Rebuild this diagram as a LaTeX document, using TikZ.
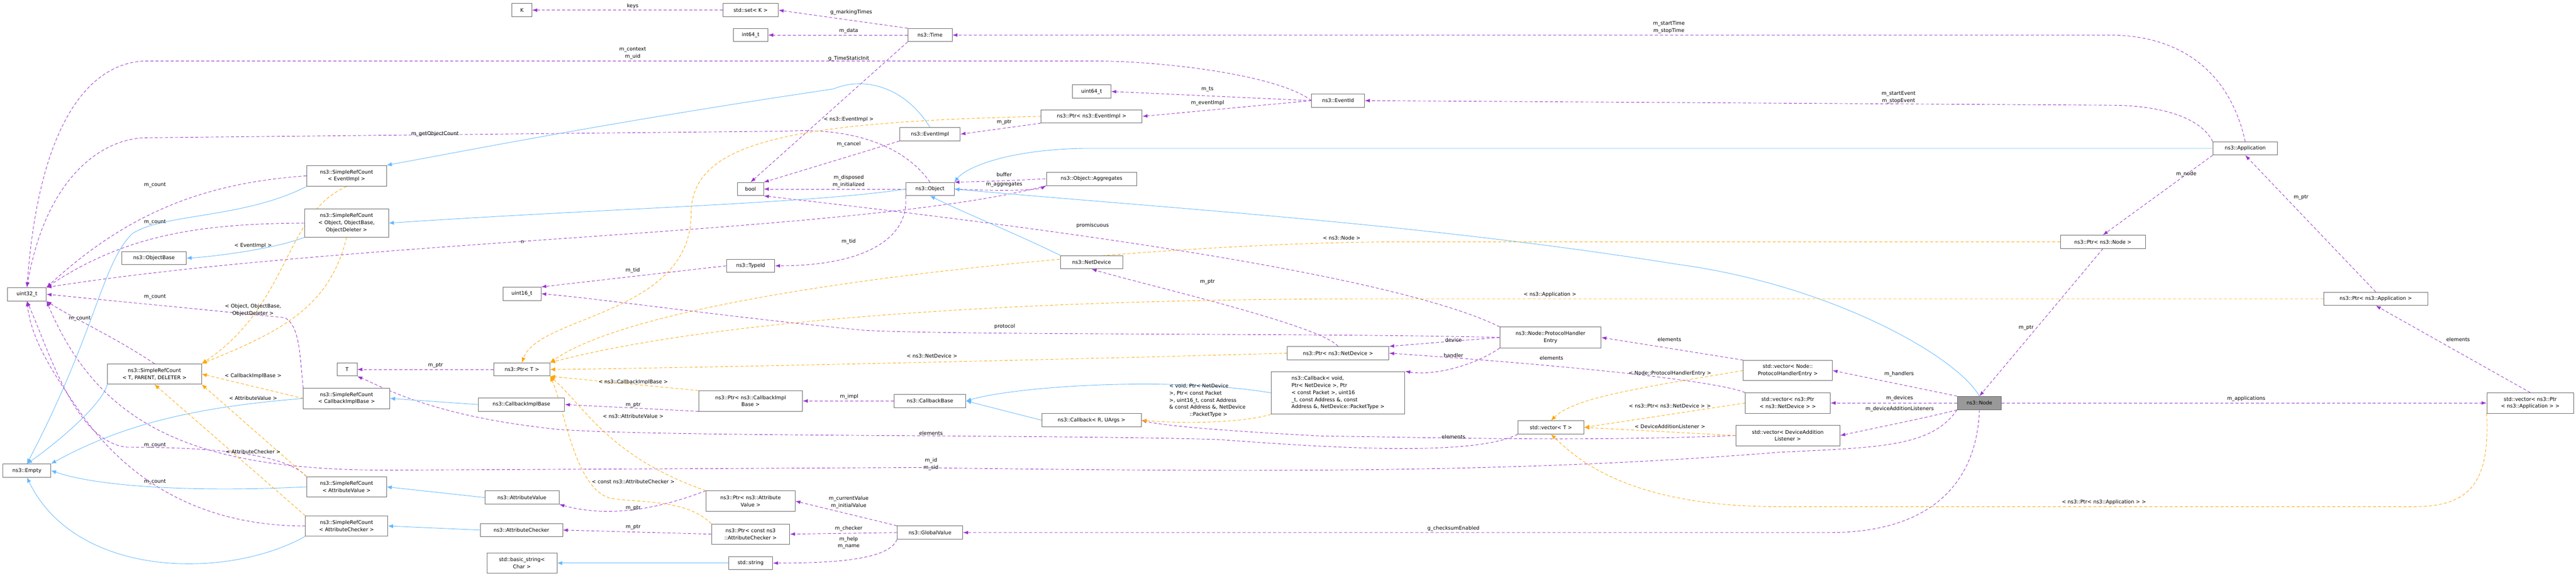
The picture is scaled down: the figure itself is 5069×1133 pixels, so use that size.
\documentclass[tikz,border=0pt]{standalone}
\usepackage{fontspec}
\setmainfont{DejaVu Sans}
\usetikzlibrary{arrows.meta}
\definecolor{purp}{HTML}{9A32CD}
\definecolor{blu}{HTML}{63B8FF}
\definecolor{orng}{HTML}{FFA500}
\pgfdeclarelayer{bg}
\pgfsetlayers{bg,main}
\begin{document}
\begin{tikzpicture}[x=1pt,y=-1pt,
 box/.style={draw=black!60, line width=0.9pt, fill=white, font=\fontsize{10}{14}\selectfont, align=center, inner sep=2pt, minimum height=26pt},
 lbl/.style={font=\fontsize{10}{14}\selectfont, align=center, inner sep=0.5pt},
 use/.style={draw=purp, dashed, dash pattern=on 6pt off 4pt, line width=0.9pt, -{Latex[length=10pt,width=7pt]}},
 inh/.style={draw=blu, line width=0.9pt, -{Latex[length=10pt,width=8pt]}},
 tmpl/.style={draw=orng, dashed, dash pattern=on 6pt off 4pt, line width=0.9pt, -{Latex[length=10pt,width=8pt]}}]
\useasboundingbox (0,0) rectangle (5069,1133);
% nodes
\node[box,minimum width=39pt] (K) at (1027,20) {K};
\node[box,minimum width=109pt] (setK) at (1477,20) {std::set< K >};
\node[box,minimum width=68pt] (int64) at (1477,69) {int64\_t};
\node[box,minimum width=87pt] (time) at (1830,69) {ns3::Time};
\node[box,minimum width=76pt] (uint64) at (2148,180) {uint64\_t};
\node[box,minimum width=199pt] (ptrEI) at (2148,229) {ns3::Ptr< ns3::EventImpl >};
\node[box,minimum width=104pt] (eventid) at (2633,198) {ns3::EventId};
\node[box,minimum width=119pt] (eventimpl) at (1830,264) {ns3::EventImpl};
\node[box,minimum width=127pt] (app) at (4418,292) {ns3::Application};
\node[box,minimum width=51pt] (bool) at (1477,372) {bool};
\node[box,minimum width=95pt] (object) at (1830,372) {ns3::Object};
\node[box,minimum width=178pt] (aggr) at (2148,352) {ns3::Object::Aggregates};
\node[box,minimum width=157pt,minimum height=41pt] (srcEI) at (682,346) {ns3::SimpleRefCount\\< EventImpl >};
\node[box,minimum width=165pt,minimum height=55pt] (srcO) at (682,439) {ns3::SimpleRefCount\\< Object, ObjectBase,\\ ObjectDeleter >};
\node[box,minimum width=127pt] (objbase) at (303,508) {ns3::ObjectBase};
\node[box,minimum width=167pt] (ptrNode) at (4138,476) {ns3::Ptr< ns3::Node >};
\node[box,minimum width=95pt] (typeid) at (1477,523) {ns3::TypeId};
\node[box,minimum width=122pt] (netdev) at (2148,516) {ns3::NetDevice};
\node[box,minimum width=76pt] (uint32) at (53,579) {uint32\_t};
\node[box,minimum width=75pt] (uint16) at (1027,578) {uint16\_t};
\node[box,minimum width=205pt] (ptrApp) at (4675,588) {ns3::Ptr< ns3::Application >};
\node[box,minimum width=199pt,minimum height=41pt] (phe) at (3051,664) {ns3::Node::ProtocolHandler\\Entry};
\node[box,minimum width=200pt] (ptrND) at (2633,695) {ns3::Ptr< ns3::NetDevice >};
\node[box,minimum width=185pt,minimum height=40pt] (srcT) at (304,736) {ns3::SimpleRefCount\\< T, PARENT, DELETER >};
\node[box,minimum width=39pt] (T) at (683,727) {T};
\node[box,minimum width=110pt] (ptrT) at (1027,727) {ns3::Ptr< T >};
\node[box,minimum width=175pt,minimum height=40pt] (vecPHE) at (3518,729) {std::vector< Node::\\ProtocolHandlerEntry >};
\node[box,minimum width=263pt,minimum height=84pt,align=left] (cbvoid) at (2633,773) {ns3::Callback< void,\\ Ptr< NetDevice >, Ptr\\< const Packet >, uint16\\\_t, const Address \&, const\\ Address \&, NetDevice::PacketType >};
\node[box,minimum width=170pt,minimum height=40pt] (srcCIB) at (682,784) {ns3::SimpleRefCount\\< CallbackImplBase >};
\node[box,minimum width=204pt,minimum height=40pt] (ptrCIB) at (1477,789) {ns3::Ptr< ns3::CallbackImpl\\Base >};
\node[box,minimum width=141pt] (cbbase) at (1830,789) {ns3::CallbackBase};
\node[box,minimum width=87pt,fill=black!40] (node) at (3895,793) {ns3::Node};
\node[box,minimum width=167pt,minimum height=40pt] (vecND) at (3518,793) {std::vector< ns3::Ptr\\< ns3::NetDevice > >};
\node[box,minimum width=171pt,minimum height=40pt] (vecApp) at (4979,793) {std::vector< ns3::Ptr\\< ns3::Application > >};
\node[box,minimum width=170pt] (cib) at (1026,796) {ns3::CallbackImplBase};
\node[box,minimum width=195pt] (cbR) at (2148,827) {ns3::Callback< R, UArgs >};
\node[box,minimum width=130pt] (vecT) at (3052,841) {std::vector< T >};
\node[box,minimum width=205pt,minimum height=40pt] (vecDAL) at (3518,857) {std::vector< DeviceAddition\\Listener >};
\node[box,minimum width=94pt] (empty) at (53,926) {ns3::Empty};
\node[box,minimum width=157pt,minimum height=40pt] (srcAV) at (682,958) {ns3::SimpleRefCount\\< AttributeValue >};
\node[box,minimum width=146pt] (av) at (1027,979) {ns3::AttributeValue};
\node[box,minimum width=175pt,minimum height=40pt] (ptrAV) at (1477,986) {ns3::Ptr< ns3::Attribute\\Value >};
\node[box,minimum width=162pt,minimum height=40pt] (srcAC) at (682,1035) {ns3::SimpleRefCount\\< AttributeChecker >};
\node[box,minimum width=162pt] (ac) at (1026,1043) {ns3::AttributeChecker};
\node[box,minimum width=154pt,minimum height=40pt] (ptrAC) at (1477,1051) {ns3::Ptr< const ns3\\::AttributeChecker >};
\node[box,minimum width=129pt] (gv) at (1830,1048) {ns3::GlobalValue};
\node[box,minimum width=138pt,minimum height=40pt] (bstr) at (1027,1108) {std::basic\_string<\\ Char >};
\node[box,minimum width=87pt] (str) at (1477,1108) {std::string};

\begin{pgfonlayer}{bg}
% ---------- purple (usage) ----------
\draw[use] (setK) -- (K);
\draw[use] (time.north west) -- (setK.east);
\draw[use] (time) -- (int64);
\draw[use] (app.north) .. controls (4390,150) and (4300,69) .. (4150,69) -- (time.east);
\draw[use] (eventid.west) .. controls (2520,150) and (2300,120) .. (2150,120) -- (290,120) .. controls (200,120) and (80,200) .. (uint32.north);
\draw[use] (eventid.west) -- (uint64.east);
\draw[use] (eventid.west) -- (ptrEI.east);
\draw[use] (ptrEI.south west) -- (eventimpl.east);
\draw[use] (eventimpl.south west) -- (bool.north east);
\draw[use] (app.north west) .. controls (4330,230) and (4250,207) .. (4150,207) -- (eventid.east);
\draw[use] (time.south west) -- (bool.north);
\draw[use] (object.north) .. controls (1790,300) and (1700,250) .. (1550,258) -- (290,271) .. controls (200,271) and (90,350) .. (uint32.north);
\draw[use] (object) -- (bool);
\draw[use] (aggr.west) .. controls (2080,350) and (2020,355) .. (object.north east);
\draw[use] (object.east) .. controls (1960,376) and (2040,375) .. (aggr.south west);
\draw[use] (aggr.south west) .. controls (1700,460) and (700,470) .. (uint32.north east);
\draw[use] (object.south west) .. controls (1790,470) and (1700,523) .. (typeid.east);
\draw[use] (typeid.west) -- (uint16.north east);
\draw[use] (phe.north west) .. controls (2700,520) and (1800,420) .. (bool.south east);
\draw[use] (phe.west) .. controls (2600,655) and (1900,660) .. (1700,650) .. controls (1400,620) and (1200,590) .. (uint16.east);
\draw[use] (phe.west) -- (ptrND.north east);
\draw[use] (phe.south west) .. controls (2900,720) and (2820,740) .. (cbvoid.north east);
\draw[use] (ptrND.north) .. controls (2600,640) and (2250,560) .. (netdev.south);
\draw[use] (vecPHE.north west) -- (phe.east);
\draw[use] (vecND.north west) .. controls (3380,750) and (3100,720) .. (ptrND.east);
\draw[use] (vecDAL.west) .. controls (3100,870) and (2800,860) .. (2600,858) .. controls (2450,850) and (2300,840) .. (cbR.east);
\draw[use] (vecT.south west) .. controls (2900,900) and (2600,880) .. (2400,865) .. controls (2100,855) and (1300,860) .. (1100,845) .. controls (850,820) and (750,760) .. (T.south east);
\draw[use] (node.north west) -- (vecPHE.east);
\draw[use] (node.west) -- (vecND.east);
\draw[use] (node.south west) .. controls (3800,820) and (3700,840) .. (vecDAL.east);
\draw[use] (node.east) -- (vecApp.west);
\draw[use] (node.south west) .. controls (3800,880) and (3700,880) .. (3500,890) .. controls (3000,930) and (2500,930) .. (1800,920) -- (800,925) .. controls (400,930) and (200,850) .. (uint32.south east);
\draw[use] (node.south) .. controls (3890,950) and (3800,1048) .. (3600,1048) -- (gv.east);
\draw[use] (ptrNode.south) -- (node.north);
\draw[use] (app.south west) -- (ptrNode.north);
\draw[use] (ptrApp.north) -- (app.south);
\draw[use] (vecApp.north) -- (ptrApp.south);
\draw[use] (gv.north west) -- (ptrAV.east);
\draw[use] (gv.west) -- (ptrAC.east);
\draw[use] (gv.south west) .. controls (1750,1100) and (1650,1108) .. (str.east);
\draw[use] (ptrAV.north west) .. controls (1300,1000) and (1200,1020) .. (av.south east);
\draw[use] (ptrAC.west) -- (ac.east);
\draw[use] (ptrCIB.south west) -- (cib.east);
\draw[use] (cbbase.west) -- (ptrCIB.east);
\draw[use] (ptrT.west) -- (T.east);
\draw[use] (srcEI.west) .. controls (400,360) and (250,420) .. (uint32.north east);
\draw[use] (srcO.west) .. controls (400,440) and (250,460) .. (uint32.north east);
\draw[use] (srcT.north) .. controls (220,660) and (150,630) .. (uint32.south east);
\draw[use] (srcCIB.north west) .. controls (590,700) and (590,640) .. (560,625) -- (uint32.east);
\draw[use] (srcAV.north west) .. controls (560,890) and (400,880) .. (250,880) .. controls (150,870) and (100,700) .. (uint32.south);
\draw[use] (srcAC.west) .. controls (400,1035) and (250,950) .. (150,800) .. controls (80,700) and (60,650) .. (uint32.south);
% ---------- blue (inheritance) ----------
\draw[inh] (eventimpl.north) .. controls (1780,170) and (1700,150) .. (1640,175) .. controls (1200,240) and (900,300) .. (srcEI.north east);
\draw[inh] (srcEI.south west) .. controls (480,430) and (320,420) .. (260,460) .. controls (200,520) and (190,650) .. (empty.north);
\draw[inh] (object.west) .. controls (1600,400) and (1200,410) .. (srcO.east);
\draw[inh] (srcO.south west) .. controls (540,490) and (420,505) .. (objbase.east);
\draw[inh] (srcT.south west) .. controls (200,800) and (100,880) .. (empty.north);
\draw[inh] (srcCIB.west) .. controls (400,800) and (250,830) .. (empty.north east);
\draw[inh] (cib.west) -- (srcCIB.east);
\draw[inh] (srcAV.west) .. controls (400,968) and (200,960) .. (empty.east);
\draw[inh] (av.west) -- (srcAV.east);
\draw[inh] (srcAC.south west) .. controls (450,1140) and (150,1140) .. (empty.south);
\draw[inh] (ac.west) -- (srcAC.east);
\draw[inh] (str.west) -- (bstr.east);
\draw[inh] (netdev.north west) .. controls (2000,460) and (1900,420) .. (object.south);
\draw[inh] (app.west) -- (2130,292) .. controls (1980,295) and (1900,330) .. (object.north east);
\draw[inh] (node.north) .. controls (3850,700) and (3600,560) .. (3300,520) .. controls (2800,440) and (2300,410) .. (object.east);
\draw[inh] (cbvoid.west) .. controls (2300,740) and (2000,760) .. (cbbase.east);
\draw[inh] (cbR.west) -- (cbbase.east);
% ---------- orange (template) ----------
\draw[tmpl] (srcEI.south) .. controls (560,420) and (570,600) .. (srcT.north east);
\draw[tmpl] (srcO.south) .. controls (650,600) and (560,650) .. (srcT.north east);
\draw[tmpl] (srcCIB.west) -- (srcT.east);
\draw[tmpl] (srcAV.north west) -- (srcT.south east);
\draw[tmpl] (srcAC.north west) -- (srcT.south);
\draw[tmpl] (ptrEI.west) .. controls (1550,240) and (1360,280) .. (1360,420) .. controls (1360,620) and (1060,620) .. (ptrT.north);
\draw[tmpl] (ptrNode.west) -- (2750,476) .. controls (2300,476) and (1300,560) .. (ptrT.north east);
\draw[tmpl] (ptrApp.west) -- (2700,588) .. controls (2000,588) and (1400,630) .. (ptrT.north east);
\draw[tmpl] (ptrND.west) .. controls (2000,710) and (1300,725) .. (ptrT.east);
\draw[tmpl] (ptrCIB.north west) -- (ptrT.south east);
\draw[tmpl] (ptrAV.north west) .. controls (1200,900) and (1150,800) .. (ptrT.south east);
\draw[tmpl] (ptrAC.north west) .. controls (1350,980) and (1250,990) .. (1200,980) .. controls (1130,960) and (1110,800) .. (ptrT.south east);
\draw[tmpl] (cbvoid.south west) .. controls (2450,830) and (2350,835) .. (cbR.east);
\draw[tmpl] (vecPHE.west) .. controls (3250,760) and (3100,780) .. (vecT.north);
\draw[tmpl] (vecND.west) -- (vecT.east);
\draw[tmpl] (vecDAL.west) -- (vecT.east);
\draw[tmpl] (vecApp.south west) .. controls (4900,950) and (4860,997) .. (4750,997) -- (3500,997) .. controls (3200,997) and (3100,900) .. (vecT.south);
\end{pgfonlayer}

% ---------- labels ----------
\node[lbl] (l1) at (1245,12) {keys};
\node[lbl] (l2) at (1675,24) {g\_markingTimes};
\node[lbl] (l3) at (1670,61) {m\_data};
\node[lbl] (l4) at (3284,54) {m\_startTime\\m\_stopTime};
\node[lbl] (l5) at (1245,105) {m\_context\\m\_uid};
\node[lbl] (l6) at (1670,115) {g\_TimeStaticInit};
\node[lbl] (l7) at (2376,176) {m\_ts};
\node[lbl] (l8) at (2376,203) {m\_eventImpl};
\node[lbl] (l9) at (3736,192) {m\_startEvent\\m\_stopEvent};
\node[lbl] (l10) at (1670,235) {< ns3::EventImpl >};
\node[lbl] (l11) at (1976,240) {m\_ptr};
\node[lbl] (l12) at (856,263) {m\_getObjectCount};
\node[lbl] (l13) at (1670,284) {m\_cancel};
\node[lbl] (l14) at (1976,343) {buffer};
\node[lbl] (l15) at (1670,357) {m\_disposed\\m\_initialized};
\node[lbl] (l16) at (1976,363) {m\_aggregates};
\node[lbl] (l17) at (4302,343) {m\_node};
\node[lbl] (l18) at (4528,388) {m\_ptr};
\node[lbl] (l19) at (305,364) {m\_count};
\node[lbl] (l20) at (305,437) {m\_count};
\node[lbl] (l21) at (2150,444) {promiscuous};
\node[lbl] (l22) at (2640,468) {< ns3::Node >};
\node[lbl] (l23) at (1028,476) {n};
\node[lbl] (l24) at (498,483) {< EventImpl >};
\node[lbl] (l25) at (1670,475) {m\_tid};
\node[lbl] (l26) at (1245,532) {m\_tid};
\node[lbl] (l27) at (2376,555) {m\_ptr};
\node[lbl] (l28) at (3050,580) {< ns3::Application >};
\node[lbl] (l29) at (305,584) {m\_count};
\node[lbl] (l30) at (498,610) {< Object, ObjectBase,\\ObjectDeleter >};
\node[lbl] (l31) at (157,627) {m\_count};
\node[lbl] (l32) at (1977,643) {protocol};
\node[lbl] (l33) at (3987,645) {m\_ptr};
\node[lbl] (l34) at (4837,668) {elements};
\node[lbl] (l35) at (3285,668) {elements};
\node[lbl] (l36) at (2860,669) {device};
\node[lbl] (l37) at (2860,699) {handler};
\node[lbl] (l38) at (1834,700) {< ns3::NetDevice >};
\node[lbl] (l39) at (3053,704) {elements};
\node[lbl] (l40) at (857,719) {m\_ptr};
\node[lbl] (l41) at (3286,735) {< Node::ProtocolHandlerEntry >};
\node[lbl] (l42) at (3737,736) {m\_handlers};
\node[lbl] (l43) at (498,740) {< CallbackImplBase >};
\node[lbl] (l44) at (1246,752) {< ns3::CallbackImplBase >};
\node[lbl,align=left] (l45) at (2376,788) {< void, Ptr< NetDevice\\>, Ptr< const Packet\\>, uint16\_t, const Address\\\& const Address \&, NetDevice\\\hspace*{4em}::PacketType >};
\node[lbl] (l46) at (1671,781) {m\_impl};
\node[lbl] (l47) at (498,783) {< AttributeValue >};
\node[lbl] (l48) at (3738,784) {m\_devices};
\node[lbl] (l49) at (4420,785) {m\_applications};
\node[lbl] (l50) at (1246,797) {m\_ptr};
\node[lbl] (l51) at (3286,799) {< ns3::Ptr< ns3::NetDevice > >};
\node[lbl] (l52) at (3738,805) {m\_deviceAdditionListeners};
\node[lbl] (l53) at (1246,819) {< ns3::AttributeValue >};
\node[lbl] (l54) at (3286,839) {< DeviceAdditionListener >};
\node[lbl] (l55) at (1832,852) {elements};
\node[lbl] (l56) at (2860,860) {elements};
\node[lbl] (l57) at (305,876) {m\_count};
\node[lbl] (l58) at (498,889) {< AttributeChecker >};
\node[lbl] (l59) at (1832,913) {m\_id\\m\_sid};
\node[lbl] (l60) at (1246,948) {< const ns3::AttributeChecker >};
\node[lbl] (l61) at (305,948) {m\_count};
\node[lbl] (l62) at (1670,988) {m\_currentValue\\m\_initialValue};
\node[lbl] (l63) at (4140,988) {< ns3::Ptr< ns3::Application > >};
\node[lbl] (l64) at (1246,1000) {m\_ptr};
\node[lbl] (l65) at (1670,1040) {m\_checker};
\node[lbl] (l66) at (2860,1040) {g\_checksumEnabled};
\node[lbl] (l67) at (1246,1037) {m\_ptr};
\node[lbl] (l68) at (1670,1068) {m\_help\\m\_name};
\end{tikzpicture}
\end{document}
